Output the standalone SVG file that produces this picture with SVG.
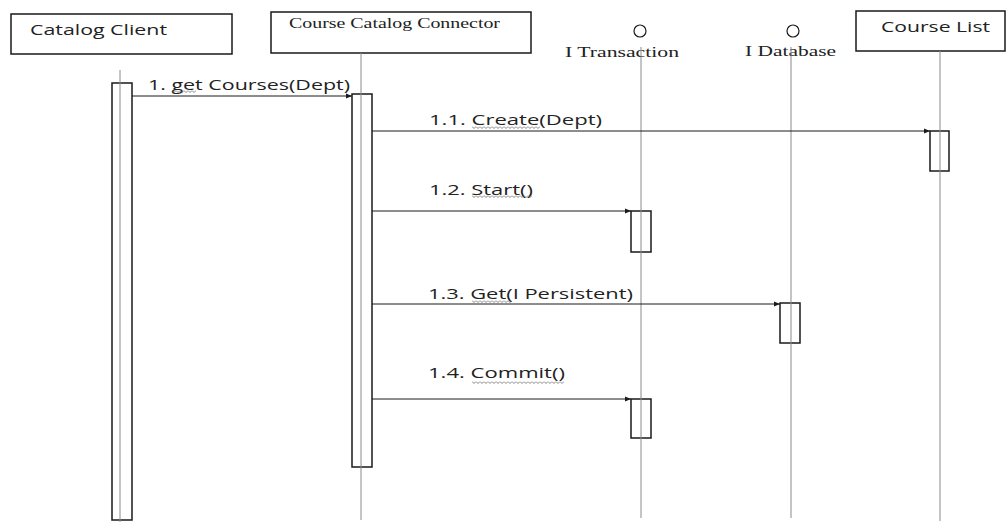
<svg xmlns="http://www.w3.org/2000/svg" width="1007" height="527" viewBox="0 0 1007 527">
<style>
.box{fill:#fff;stroke:#1a1a1a;stroke-width:1.5}
.act{fill:#fff;stroke:#1a1a1a;stroke-width:1.5}
.life{stroke:#8a8a8a;stroke-width:1;fill:none}
.msg{stroke:#1a1a1a;stroke-width:1;fill:none;marker-end:url(#arr)}
.sans{font-family:"Open Sans","Liberation Sans",sans-serif;fill:#222}
.serif{font-family:"Liberation Serif","DejaVu Serif",serif;fill:#222}
.lbl{font-family:"Open Sans","Liberation Sans",sans-serif;font-size:14px;fill:#222}
.sq{fill:url(#wave)}
.iface{fill:#fff;stroke:#1a1a1a;stroke-width:1.2}
</style>
<defs>
<marker id="arr" viewBox="0 0 10 10" refX="10" refY="5" markerWidth="8" markerHeight="6" orient="auto" markerUnits="userSpaceOnUse">
<path d="M0,1 L10,5 L0,9 z" fill="#1a1a1a"/>
</marker>
<pattern id="wave" x="0" y="0" width="4" height="3" patternUnits="userSpaceOnUse">
<path d="M0,0.5 L2,2.5 L4,0.5" stroke="#666" stroke-width="0.8" fill="none"/>
</pattern>
</defs>
<rect width="1007" height="527" fill="#fff"/>

<g id="catalog-client">
<rect class="box" x="11" y="14" width="221" height="40"/>
<text class="sans" x="30" y="35" font-size="14" textLength="137" lengthAdjust="spacingAndGlyphs">Catalog Client</text>
<rect class="act" x="112" y="83" width="20" height="437"/>
<line class="life" x1="120" y1="70" x2="120" y2="522"/>
</g>

<g id="course-catalog-connector">
<rect class="box" x="271" y="12" width="260" height="41"/>
<text class="serif" x="289" y="28" font-size="14" textLength="211" lengthAdjust="spacingAndGlyphs">Course Catalog Connector</text>
<rect class="act" x="352" y="94" width="20" height="373"/>
<line class="life" x1="361" y1="53" x2="361" y2="520"/>
</g>

<g id="i-transaction">
<circle class="iface" cx="640" cy="31" r="6"/>
<text class="serif" x="565" y="57" font-size="14" textLength="114" lengthAdjust="spacingAndGlyphs">I Transaction</text>
<rect class="act" x="631" y="211" width="20" height="41"/>
<rect class="act" x="631" y="399" width="20" height="39"/>
<line class="life" x1="641" y1="47" x2="641" y2="518"/>
</g>

<g id="i-database">
<circle class="iface" cx="793" cy="31" r="6"/>
<text class="serif" x="745" y="56" font-size="14" textLength="91" lengthAdjust="spacingAndGlyphs">I Database</text>
<rect class="act" x="780" y="303" width="20" height="40"/>
<line class="life" x1="791" y1="47" x2="791" y2="518"/>
</g>

<g id="course-list">
<rect class="box" x="856" y="11" width="149" height="40"/>
<text class="sans" x="881" y="32" font-size="14" textLength="109" lengthAdjust="spacingAndGlyphs">Course List</text>
<rect class="act" x="930" y="131" width="19" height="40"/>
<line class="life" x1="940" y1="51" x2="940" y2="521"/>
</g>

<g id="connectors">
<line class="msg" x1="132" y1="96" x2="352" y2="96"/>
<line class="msg" x1="372" y1="131" x2="930" y2="131"/>
<line class="msg" x1="372" y1="211" x2="631" y2="211"/>
<line class="msg" x1="372" y1="304" x2="780" y2="304"/>
<line class="msg" x1="372" y1="399" x2="631" y2="399"/>
<text class="lbl" x="148" y="90" textLength="202" lengthAdjust="spacingAndGlyphs">1. get Courses(Dept)</text>
<text class="lbl" x="429" y="125" textLength="173" lengthAdjust="spacingAndGlyphs">1.1. Create(Dept)</text>
<text class="lbl" x="429" y="195" textLength="104" lengthAdjust="spacingAndGlyphs">1.2. Start()</text>
<text class="lbl" x="428" y="299" textLength="205" lengthAdjust="spacingAndGlyphs">1.3. Get(I Persistent)</text>
<text class="lbl" x="428" y="378" textLength="137" lengthAdjust="spacingAndGlyphs">1.4. Commit()</text>
<rect class="sq" x="172" y="90" width="24" height="3"/>
<rect class="sq" x="472" y="126" width="68" height="3"/>
<rect class="sq" x="472" y="195" width="60" height="3"/>
<rect class="sq" x="472" y="300" width="40" height="3"/>
<rect class="sq" x="472" y="381" width="92" height="3"/>
</g>
</svg>
